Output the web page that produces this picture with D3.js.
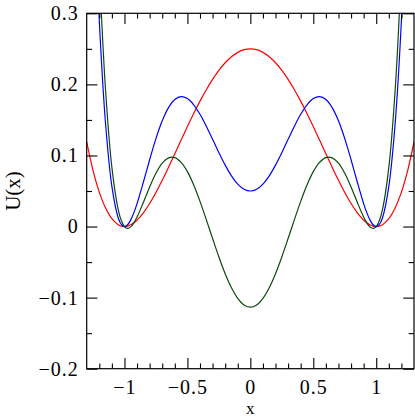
<!DOCTYPE html>
<html><head><meta charset="utf-8">
<script src="https://cdn.jsdelivr.net/npm/d3@7"></script>
<style>body{margin:0;background:#fff}svg{display:block}</style>
</head><body>
<svg id="c" width="415" height="419"></svg>
<script>
const xValues = [-1.3,-1.25,-1.2,-1.15,-1.1,-1.05,-1.025,-1,-0.975,-0.95,-0.925,-0.9,-0.85,-0.8,-0.75,-0.7,-0.65,-0.6,-0.55,-0.5,-0.45,-0.4,-0.35,-0.3,-0.25,-0.2,-0.15,-0.1,-0.05,
  0,
  0.05,0.1,0.15,0.2,0.25,0.3,0.35,0.4,0.45,0.5,0.55,0.6,0.65,0.7,0.75,0.8,0.85,0.9,0.925,0.95,0.975,1,1.025,1.05,1.1,1.15,1.2,1.25,1.3];
const redValues = [0.1190,0.0791,0.0484,0.0260,0.0110,0.0026,0.0006,0,0.0006,0.0024,0.0052,0.0090,0.0193,0.0324,0.0479,0.0650,0.0834,0.1024,0.1216,0.1406,0.1590,0.1764,0.1925,0.2070,0.2197,0.2304,0.2389,0.2450,0.2488,
  0.2500,
  0.2488,0.2450,0.2389,0.2304,0.2197,0.2070,0.1925,0.1764,0.1590,0.1406,0.1216,0.1024,0.0834,0.0650,0.0479,0.0324,0.0193,0.0090,0.0052,0.0024,0.0006,0,0.0006,0.0026,0.0110,0.0260,0.0484,0.0791,0.1190];
const blueValues = [0.8183,0.5081,0.2895,0.1443,0.0565,0.0124,0.0029,0,0.0025,0.0094,0.0196,0.0323,0.0623,0.0940,0.1237,0.1487,0.1673,0.1787,0.1828,0.1800,0.1713,0.1579,0.1412,0.1227,0.1039,0.0864,0.0713,0.0597,0.0525,
  0.0500,
  0.0525,0.0597,0.0713,0.0864,0.1039,0.1227,0.1412,0.1579,0.1713,0.1800,0.1828,0.1787,0.1673,0.1487,0.1237,0.0940,0.0623,0.0323,0.0196,0.0094,0.0025,0,0.0029,0.0124,0.0565,0.1443,0.2895,0.5081,0.8183];
const greenValues = [0.9944,0.6255,0.3655,0.1914,0.0832,0.0241,0.0084,0,-0.0026,-0.0005,0.0051,0.0133,0.0338,0.0556,0.0750,0.0893,0.0966,0.0970,0.0902,0.0772,0.0584,0.0354,0.0097,-0.0169,-0.0428,-0.0663,-0.0860,-0.1010,-0.1103,
  -0.1135,
  -0.1103,-0.1010,-0.0860,-0.0663,-0.0428,-0.0169,0.0097,0.0354,0.0584,0.0772,0.0902,0.0970,0.0966,0.0893,0.0750,0.0556,0.0338,0.0133,0.0051,-0.0005,-0.0026,0,0.0084,0.0241,0.0832,0.1914,0.3655,0.6255,0.9944];

const xMajorTicks = [-1,-0.5,0,0.5,1];
const xTickLabels = ["\u22121","\u22120.5","0","0.5","1"];
const xMinorTicks = [-1.2,-1.1,-0.9,-0.8,-0.7,-0.6,-0.4,-0.3,-0.2,-0.1,0.1,0.2,0.3,0.4,0.6,0.7,0.8,0.9,1.1,1.2];
const yMajorTicks = [-0.2,-0.1,0,0.1,0.2,0.3];
const yTickLabels = ["\u22120.2","\u22120.1","0","0.1","0.2","0.3"];
const yMinorTicks = [-0.15,-0.05,0.05,0.15,0.25];

const L = 86.7, R = 414, T = 13.3, B = 368.7;
const x = d3.scaleLinear().domain([-1.3, 1.3]).range([L, R]);
const y = d3.scaleLinear().domain([-0.2, 0.3]).range([B, T]);

const svg = d3.select("#c");
const font = "'Liberation Serif','Times New Roman',serif";

svg.append("defs").append("clipPath").attr("id","clip")
  .append("rect").attr("x", L).attr("y", T).attr("width", R - L).attr("height", B - T);

const series = [
  {values: redValues, color: "#ff0000"},
  {values: blueValues, color: "#0000ff"},
  {values: greenValues, color: "#0b4a0b"}
];
const line = d3.line().x(d => x(d[0])).y(d => y(d[1])).curve(d3.curveCatmullRom.alpha(0.5));
const g = svg.append("g").attr("clip-path", "url(#clip)");
series.forEach(s => {
  g.append("path").datum(xValues.map((v, i) => [v, s.values[i]]))
    .attr("d", line).attr("fill", "none").attr("stroke", s.color).attr("stroke-width", 1.2);
});

const MAJ = 10.7, MIN = 5.3;
function styleAxis(sel) {
  sel.select(".domain").remove();
  sel.selectAll(".tick line").attr("stroke", "#000").attr("stroke-width", 1.1);
  sel.selectAll("text").attr("font-family", font).attr("font-size", 20).attr("fill", "#000");
}
// bottom
svg.append("g").attr("transform", `translate(0,${B})`)
  .call(d3.axisBottom(x).tickValues(xMajorTicks).tickSize(-MAJ).tickPadding(11).tickFormat((d, i) => xTickLabels[i]))
  .call(styleAxis);
svg.append("g").attr("transform", `translate(0,${B})`)
  .call(d3.axisBottom(x).tickValues(xMinorTicks).tickSize(-MIN).tickFormat(""))
  .call(styleAxis);
// top
svg.append("g").attr("transform", `translate(0,${T})`)
  .call(d3.axisTop(x).tickValues(xMajorTicks).tickSize(-MAJ).tickFormat(""))
  .call(styleAxis);
svg.append("g").attr("transform", `translate(0,${T})`)
  .call(d3.axisTop(x).tickValues(xMinorTicks).tickSize(-MIN).tickFormat(""))
  .call(styleAxis);
// left
svg.append("g").attr("transform", `translate(${L},0)`)
  .call(d3.axisLeft(y).tickValues(yMajorTicks).tickSize(-MAJ).tickPadding(8).tickFormat((d, i) => yTickLabels[i]))
  .call(styleAxis);
svg.append("g").attr("transform", `translate(${L},0)`)
  .call(d3.axisLeft(y).tickValues(yMinorTicks).tickSize(-MIN).tickFormat(""))
  .call(styleAxis);
// right
svg.append("g").attr("transform", `translate(${R},0)`)
  .call(d3.axisRight(y).tickValues(yMajorTicks).tickSize(-MAJ).tickFormat(""))
  .call(styleAxis);
svg.append("g").attr("transform", `translate(${R},0)`)
  .call(d3.axisRight(y).tickValues(yMinorTicks).tickSize(-MIN).tickFormat(""))
  .call(styleAxis);

svg.selectAll("text").attr("letter-spacing", "1px");

// frame
svg.append("rect").attr("x", L).attr("y", T).attr("width", R - L).attr("height", B - T)
  .attr("fill", "none").attr("stroke", "#000").attr("stroke-width", 1.2);

// axis titles
svg.append("text").attr("x", (L + R) / 2).attr("y", 414).attr("text-anchor", "middle")
  .attr("font-family", font).attr("font-size", 17).text("x");
svg.append("text").attr("transform", `translate(20,${(T + B) / 2}) rotate(-90)`).attr("text-anchor", "middle")
  .attr("font-family", font).attr("font-size", 21).text("U(x)");
</script>
</body></html>
